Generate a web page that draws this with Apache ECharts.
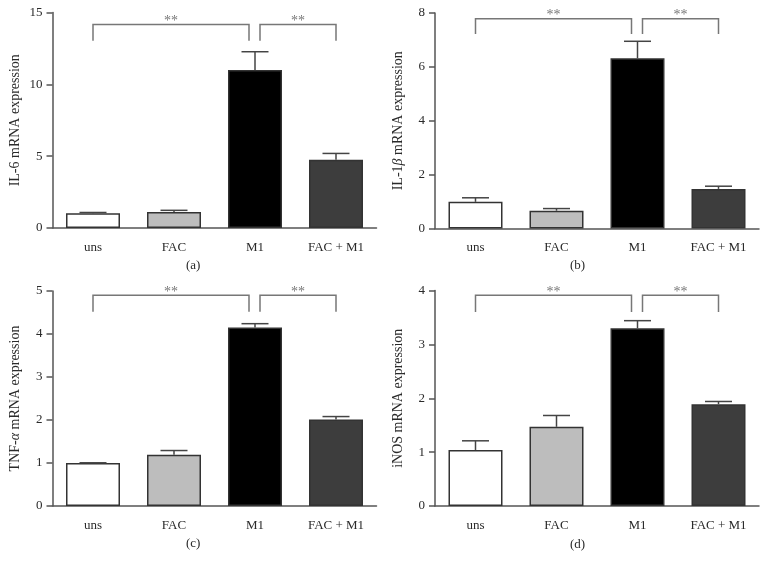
<!DOCTYPE html>
<html>
<head>
<meta charset="utf-8">
<script src="https://cdn.jsdelivr.net/npm/echarts@6/dist/echarts.min.js"></script>
<style>html,body{margin:0;padding:0;background:#fff;}#c{width:768px;height:571px;}</style>
</head>
<body>
<div id="c"></div>
<script>
// ---- data ----
const categories = ['uns', 'FAC', 'M1', 'FAC + M1'];
const barColors = ['#ffffff', '#bdbdbd', '#000000', '#3d3d3d'];

const il6Mean = [1.02, 1.11, 11.0, 4.75];
const il6Sem = [0.06, 0.12, 1.27, 0.44];
const il1bMean = [0.99, 0.66, 6.32, 1.47];
const il1bSem = [0.15, 0.08, 0.63, 0.10];
const tnfMean = [1.0, 1.19, 4.15, 2.01];
const tnfSem = [0.005, 0.10, 0.09, 0.07];
const inosMean = [1.04, 1.47, 3.30, 1.89];
const inosSem = [0.17, 0.21, 0.14, 0.05];

// brackets: [fromIndex, toIndex, barY, legBottomY]
const il6Brackets = [[0, 2, 14.17, 13.03], [2, 3, 14.17, 13.03]];
const il1bBrackets = [[0, 2, 7.79, 7.22], [2, 3, 7.79, 7.22]];
const tnfBrackets = [[0, 2, 4.90, 4.52], [2, 3, 4.90, 4.52]];
const inosBrackets = [[0, 2, 3.91, 3.60], [2, 3, 3.91, 3.60]];
const sigLabel = '**';

const yMax = [15, 8, 5, 4];
const yInterval = [5, 2, 1, 1];
const yNames = ['IL-6 mRNA expression', 'IL-1{i|β} mRNA expression', 'TNF-{i|α} mRNA expression', 'iNOS mRNA expression'];
const panelLabels = ['(a)', '(b)', '(c)', '(d)'];

const panels = [
  {mean: il6Mean, sem: il6Sem, br: il6Brackets},
  {mean: il1bMean, sem: il1bSem, br: il1bBrackets},
  {mean: tnfMean, sem: tnfSem, br: tnfBrackets},
  {mean: inosMean, sem: inosSem, br: inosBrackets}
];

// ---- layout ----
const FONT = '"Liberation Serif", "DejaVu Serif", serif';
const grids = [
  {left: 52.5, top: 12.5, width: 324, height: 215.5},
  {left: 435, top: 13, width: 324, height: 215.5},
  {left: 52.5, top: 291, width: 324, height: 215},
  {left: 435, top: 290.5, width: 324, height: 215.5}
];
const labelPos = [[194, 267], [578, 267], [194, 545], [578, 546]];
const axisColor = '#555';
const textColor = '#2a2a2a';
const barW = 54;
const capW = 27;

const xAxes = [], yAxes = [], series = [], graphics = [];
panels.forEach((p, i) => {
  xAxes.push({
    type: 'category', gridIndex: i, data: categories,
    axisLine: {lineStyle: {color: axisColor, width: 1.5}},
    axisTick: {alignWithLabel: true, length: 6, lineStyle: {color: axisColor, width: 1.5}},
    axisLabel: {color: textColor, fontSize: 13, fontFamily: FONT, margin: 13}
  });
  yAxes.push({
    type: 'value', gridIndex: i, min: 0, max: yMax[i], interval: yInterval[i],
    splitLine: {show: false},
    axisLine: {show: true, lineStyle: {color: axisColor, width: 1.5}},
    axisTick: {show: true, length: 6, lineStyle: {color: axisColor, width: 1.5}},
    axisLabel: {color: textColor, fontSize: 13, fontFamily: FONT, margin: 10},
    name: yNames[i], nameLocation: 'middle', nameGap: 30,
    nameTextStyle: {color: textColor, fontSize: 14, fontFamily: FONT,
      rich: {i: {fontStyle: 'italic', fontSize: 14, fontFamily: FONT, color: textColor}}}
  });
  series.push({
    type: 'bar', xAxisIndex: i, yAxisIndex: i, barWidth: barW,
    data: p.mean.map((v, k) => ({value: v, itemStyle: {color: barColors[k]}})),
    itemStyle: {borderColor: '#333', borderWidth: 1.5},
    emphasis: {disabled: true}, animation: false, z: 2
  });
  series.push({
    type: 'custom', xAxisIndex: i, yAxisIndex: i, animation: false, z: 3,
    data: p.mean.map((v, k) => [k, v, v + p.sem[k]]),
    encode: {x: 0, y: [1, 2]},
    renderItem: function (params, api) {
      const a = api.coord([api.value(0), api.value(1)]);
      const b = api.coord([api.value(0), api.value(2)]);
      const st = {stroke: '#444', lineWidth: 1.5};
      return {type: 'group', children: [
        {type: 'line', shape: {x1: a[0], y1: a[1], x2: b[0], y2: b[1]}, style: st},
        {type: 'line', shape: {x1: b[0] - capW / 2, y1: b[1], x2: b[0] + capW / 2, y2: b[1]}, style: st}
      ]};
    }
  });
  series.push({
    type: 'custom', xAxisIndex: i, yAxisIndex: i, animation: false, z: 3, clip: false,
    data: p.br,
    encode: {x: [0, 1], y: [2, 3]},
    renderItem: function (params, api) {
      const from = api.value(0), to = api.value(1);
      const top = api.value(2), leg = api.value(3);
      const l = api.coord([from, top]);
      const r = api.coord([to, top]);
      const lb = api.coord([from, leg]);
      let x1 = l[0], x2 = r[0];
      if (to === 2) x2 -= 6;
      if (from === 2) x1 += 5;
      const st = {stroke: '#777', lineWidth: 1.5, fill: null};
      return {type: 'group', children: [
        {type: 'polyline', shape: {points: [[x1, lb[1]], [x1, l[1]], [x2, l[1]], [x2, lb[1]]]}, style: st},
        {type: 'text', x: (x1 + x2) / 2, y: l[1] - 3,
          style: {text: sigLabel, fill: '#777', font: '14px ' + FONT, align: 'center', verticalAlign: 'middle'}}
      ]};
    }
  });
  graphics.push({type: 'text', left: labelPos[i][0] - 8, top: labelPos[i][1] - 8,
    style: {text: panelLabels[i], fill: textColor, font: '13px ' + FONT}});
});

const chart = echarts.init(document.getElementById('c'));
chart.setOption({
  animation: false,
  grid: grids,
  xAxis: xAxes,
  yAxis: yAxes,
  series: series,
  graphic: graphics
});
</script>
</body>
</html>
